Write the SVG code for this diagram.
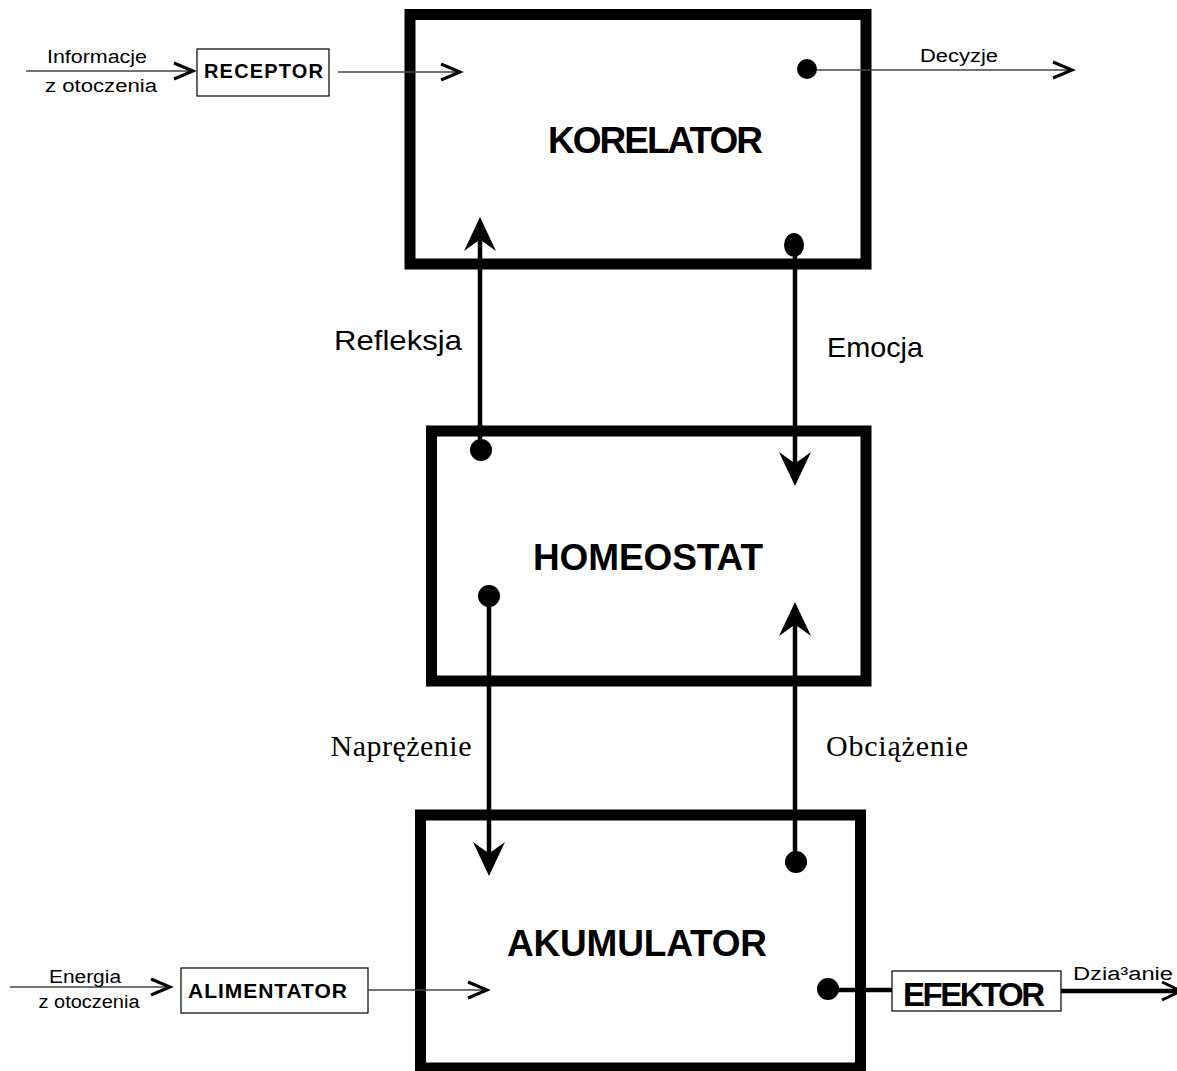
<svg xmlns="http://www.w3.org/2000/svg" width="1177" height="1071" viewBox="0 0 1177 1071">
<style>
.big{fill:#fff;stroke:#000;stroke-width:11}
.small{fill:#fff;stroke:#000;stroke-width:1.2}
.bigt{font-family:"Liberation Sans",Arial,sans-serif;font-weight:bold;font-size:37px;fill:#000}
.smt{font-family:"Liberation Sans",Arial,sans-serif;font-weight:bold;fill:#000}
.lbl{font-family:"Liberation Sans",Arial,sans-serif;fill:#000}
.tlbl{font-family:"Liberation Serif","Times New Roman",serif;font-size:30px;fill:#000}
.thin{stroke:#444;stroke-width:1.3;fill:none}
.thick{stroke:#000;stroke-width:4.5;fill:none}
.chev{stroke:#000;stroke-width:3;fill:none;stroke-miterlimit:10}
.dot{fill:#000}
</style>
<defs>
<path id="bighead" d="M0,0 L16,34 L2,24 L-2,24 L-16,34 Z" fill="#000"/>
<polyline id="chev" class="chev" points="-19,-8 0,0 -19,8"/>
</defs>
<rect width="1177" height="1071" fill="#fff"/>
<g id="korelator">
<rect class="big" x="410" y="14.5" width="456" height="249.5"/>
<text class="bigt" x="655.5" y="153" text-anchor="middle" textLength="215">KORELATOR</text>
</g>
<g id="homeostat">
<rect class="big" x="431.5" y="431" width="434.5" height="250"/>
<text class="bigt" x="648" y="570" text-anchor="middle" textLength="230">HOMEOSTAT</text>
</g>
<g id="akumulator">
<rect class="big" x="420.5" y="815" width="440" height="253"/>
<text class="bigt" x="637" y="956" text-anchor="middle" textLength="260">AKUMULATOR</text>
</g>
<g id="receptor">
<rect class="small" x="197" y="49" width="132" height="47"/>
<text class="smt" x="263.5" y="78" font-size="20" text-anchor="middle" textLength="119">RECEPTOR</text>
</g>
<g id="alimentator">
<rect class="small" x="181" y="968" width="187" height="45"/>
<text class="smt" x="267.5" y="998" font-size="21" text-anchor="middle" textLength="159">ALIMENTATOR</text>
</g>
<g id="efektor">
<rect class="small" x="892" y="971" width="169" height="40"/>
<text class="smt" x="974" y="1006" font-size="33" text-anchor="middle" textLength="142">EFEKTOR</text>
</g>
<g id="connectors">
<!-- Informacje input -->
<line class="thin" x1="26" y1="71" x2="191" y2="71"/>
<use href="#chev" x="193" y="71"/>
<!-- RECEPTOR to KORELATOR -->
<line class="thin" x1="338" y1="72" x2="458" y2="72"/>
<use href="#chev" x="460" y="72"/>
<!-- Decyzje -->
<line class="thin" x1="807" y1="70" x2="1070" y2="70"/>
<use href="#chev" x="1072" y="70"/>
<circle class="dot" cx="807" cy="69" r="10"/>
<!-- Refleksja -->
<line class="thick" x1="480" y1="450" x2="480" y2="238"/>
<use href="#bighead" transform="translate(480,217)"/>
<circle class="dot" cx="481" cy="450" r="11"/>
<!-- Emocja -->
<ellipse class="dot" cx="794" cy="245" rx="10" ry="12"/>
<line class="thick" x1="795" y1="245" x2="795" y2="465"/>
<use href="#bighead" transform="translate(795,486) rotate(180)"/>
<!-- Naprezenie -->
<circle class="dot" cx="489" cy="596" r="11"/>
<line class="thick" x1="489" y1="596" x2="489" y2="855"/>
<use href="#bighead" transform="translate(489,876) rotate(180)"/>
<!-- Obciazenie -->
<circle class="dot" cx="796" cy="862" r="11"/>
<line class="thick" x1="795" y1="862" x2="795" y2="623"/>
<use href="#bighead" transform="translate(795,602)"/>
<!-- Energia input -->
<line class="thin" x1="10" y1="987" x2="168" y2="987"/>
<use href="#chev" x="170" y="987"/>
<!-- ALIMENTATOR to AKUMULATOR -->
<line class="thin" x1="368" y1="990" x2="485" y2="990"/>
<use href="#chev" x="487" y="990"/>
<!-- EFEKTOR -->
<circle class="dot" cx="828" cy="989" r="11"/>
<line class="thick" x1="828" y1="990" x2="892" y2="990" stroke-width="5"/>
<line class="thick" x1="1061" y1="991" x2="1177" y2="991" stroke-width="5"/>
<polyline class="chev" points="1162,982 1181,991 1162,1000" stroke-width="4"/>
</g>
<g id="labels">
<text class="lbl" x="97" y="63" font-size="18" text-anchor="middle" textLength="100" lengthAdjust="spacingAndGlyphs">Informacje</text>
<text class="lbl" x="101" y="92" font-size="18" text-anchor="middle" textLength="112" lengthAdjust="spacingAndGlyphs">z otoczenia</text>
<text class="lbl" x="959" y="62" font-size="18" text-anchor="middle" textLength="78" lengthAdjust="spacingAndGlyphs">Decyzje</text>
<text class="lbl" x="398" y="350" font-size="28" text-anchor="middle" textLength="128" lengthAdjust="spacingAndGlyphs">Refleksja</text>
<text class="lbl" x="875" y="357" font-size="28" text-anchor="middle" textLength="96" lengthAdjust="spacingAndGlyphs">Emocja</text>
<text class="tlbl" x="401" y="756" text-anchor="middle" textLength="141">Naprężenie</text>
<text class="tlbl" x="897" y="756" text-anchor="middle" textLength="142">Obciążenie</text>
<text class="lbl" x="85" y="983" font-size="18" text-anchor="middle" textLength="72" lengthAdjust="spacingAndGlyphs">Energia</text>
<text class="lbl" x="89" y="1008" font-size="18" text-anchor="middle" textLength="101" lengthAdjust="spacingAndGlyphs">z otoczenia</text>
<text class="lbl" x="1123" y="980" font-size="18" text-anchor="middle" textLength="100" lengthAdjust="spacingAndGlyphs">Dzia³anie</text>
</g>
</svg>
